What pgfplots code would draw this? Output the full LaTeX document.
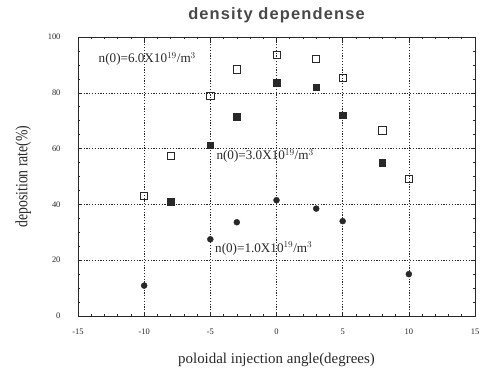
\documentclass[border=0pt]{standalone}
\usepackage{fontspec}
\setmainfont{Liberation Serif}
\newfontfamily\titlefont[LetterSpace=7]{Liberation Sans}
\usepackage{pgfplots}
\pgfplotsset{compat=1.18}
\definecolor{ink}{RGB}{40,40,40}
\begin{document}
\begin{tikzpicture}
\begin{axis}[
  scale only axis,
  width=397bp, height=279bp,
  xmin=-15, xmax=15, ymin=0, ymax=100,
  xtick={-15,-10,...,15}, ytick={0,20,...,100},
  minor x tick num=4, minor y tick num=3,
  tick align=inside,
  major tick length=4bp, minor tick length=2.5bp,
  every tick/.style={ink, line width=0.6pt},
  axis line style={ink, line width=0.9pt},
  grid=major,
  major grid style={ink, line width=0.6pt, dash pattern=on 1.2pt off 1.6pt},
  tick label style={font=\fontsize{8.5}{10}\selectfont, ink},
  /pgf/number format/assume math mode=true,
  xticklabel style={yshift=-9bp},
  yticklabel style={xshift=-14bp},
  title={\titlefont\bfseries\fontsize{16.5}{19}\selectfont density dependense},
  title style={yshift=5bp, ink!85},
  xlabel={\fontsize{15}{17}\selectfont poloidal injection angle(degrees)},
  xlabel style={yshift=-12bp, ink},
  ylabel={\scalebox{1}[1.25]{\fontsize{13.8}{16}\selectfont deposition rate(\%)}},
  ylabel style={yshift=10bp, ink},
  clip=false,
]
% n(0)=6.0e19 open squares
\addplot[only marks, mark=square, mark size=3.6bp, mark options={ink, line width=0.8pt}]
  coordinates {(-10,43) (-8,57.5) (-5,79) (-3,88.4) (0,93.5) (3,92.1) (5,85.2) (8,66.5) (10,49)};
% n(0)=3.0e19 filled squares
\addplot[only marks, mark=square*, mark size=3.2bp, mark options={ink, fill=ink}]
  coordinates {(-8,41) (-5,61.3) (-3,71.4) (0,83.6) (3,82) (5,72) (8,55)};
% n(0)=1.0e19 filled circles
\addplot[only marks, mark=*, mark size=3bp, mark options={ink, fill=ink}]
  coordinates {(-10,10.9) (-5,27.5) (-3,33.6) (0,41.5) (3,38.5) (5,34) (10,15)};
\node[anchor=west, ink, font=\fontsize{13.2}{15}\selectfont] at (axis cs:-13.7,92) {n(0)=6.0X10$^{19}$/m$^3$};
\node[anchor=west, ink, font=\fontsize{13.2}{15}\selectfont] at (axis cs:-4.8,57.3) {n(0)=3.0X10$^{19}$/m$^3$};
\node[anchor=west, ink, font=\fontsize{13.2}{15}\selectfont] at (axis cs:-4.9,24.2) {n(0)=1.0X10$^{19}$/m$^3$};
\end{axis}
\path (current axis.south west) ++(-78bp,-53bp) rectangle ++(488bp,369bp);
\end{tikzpicture}
\end{document}
